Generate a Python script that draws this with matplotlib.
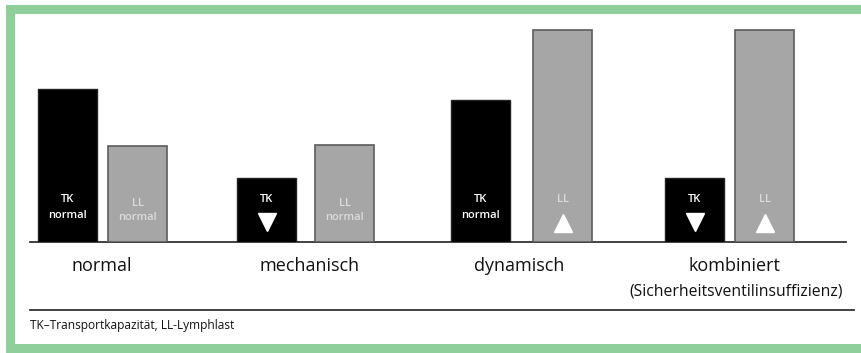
import matplotlib
matplotlib.use("Agg")
import matplotlib.pyplot as plt
from matplotlib.patches import Rectangle

# data (relative bar heights)
categories = ["normal", "mechanisch", "dynamisch", "kombiniert"]
subtitles = ["", "", "", "(Sicherheitsventilinsuffizienz)"]
tk_values = [153, 64, 142, 64]
ll_values = [96, 97, 212, 212]
tk_state = ["normal", "down", "normal", "down"]
ll_state = ["normal", "normal", "up", "up"]
footnote = "TK\u2013Transportkapazität, LL-Lymphlast"

# layout (pixels)
W, H = 862, 353
BASE = 242
group_x = [103, 306, 522, 730]
label_x = [102, 310, 519, 734]
tk_off = [-35, -39, -41, -35]
ll_off = [35, 39, 41, 35]
bar_w = 59

plt.rcParams["font.family"] = ["Open Sans", "DejaVu Sans"]

fig = plt.figure(figsize=(W / 100, H / 100), dpi=100)
fig.patch.set_facecolor("white")

# overlay axes in pixel coordinates for frame, lines, text
ov = fig.add_axes([0, 0, 1, 1])
ov.set_xlim(0, W)
ov.set_ylim(H, 0)
ov.axis("off")

green = "#8fcf9b"
ov.add_patch(Rectangle((6, 5), W, 9, color=green, lw=0))
ov.add_patch(Rectangle((6, 5), 9, H, color=green, lw=0))
ov.add_patch(Rectangle((6, 344), W, 10, color=green, lw=0))

# bar axes: y in pixels above the baseline
ax = fig.add_axes([0, (H - BASE) / H, 1, BASE / H])
ax.set_xlim(0, W)
ax.set_ylim(0, BASE)
ax.axis("off")

tk_x = [g + o for g, o in zip(group_x, tk_off)]
ll_x = [g + o for g, o in zip(group_x, ll_off)]
ax.bar(tk_x, tk_values, width=bar_w, color="black", edgecolor="#222222", lw=1)
ax.bar(ll_x, ll_values, width=bar_w, color="#a6a6a6", edgecolor="#5c5c5c", lw=1.2)

lbl = dict(ha="center", va="center", fontsize=8, fontweight="semibold")
for x, st in zip(tk_x, tk_state):
    if st == "normal":
        ax.text(x, 43, "TK", color="white", **lbl)
        ax.text(x, 27, "normal", color="white", **lbl)
    else:
        ax.text(x, 42, "TK", color="white", **lbl)
        ax.plot(x, 20, marker="v", ms=13, color="white", mec="white")
for x, st in zip(ll_x, ll_state):
    if st == "normal":
        ax.text(x, 39, "LL", color="#dcdcdc", **lbl)
        ax.text(x, 24, "normal", color="#dcdcdc", **lbl)
    else:
        ax.text(x, 43, "LL", color="#dcdcdc", **lbl)
        ax.plot(x, 19, marker="^", ms=13, color="white", mec="white")

# baseline and separator
ov.plot([30, 846], [BASE, BASE], color="#333333", lw=1.3)
ov.plot([30, 854], [310, 310], color="#333333", lw=1.3)

for lx, c, s in zip(label_x, categories, subtitles):
    ov.text(lx, 266, c, ha="center", va="center", fontsize=13, color="#111111")
    if s:
        ov.text(lx + 2, 292, s, ha="center", va="center", fontsize=11.3, color="#111111")

ov.text(30, 325, footnote, ha="left", va="center", fontsize=8.6, color="#111111")

fig.savefig("out.png", dpi=100)
